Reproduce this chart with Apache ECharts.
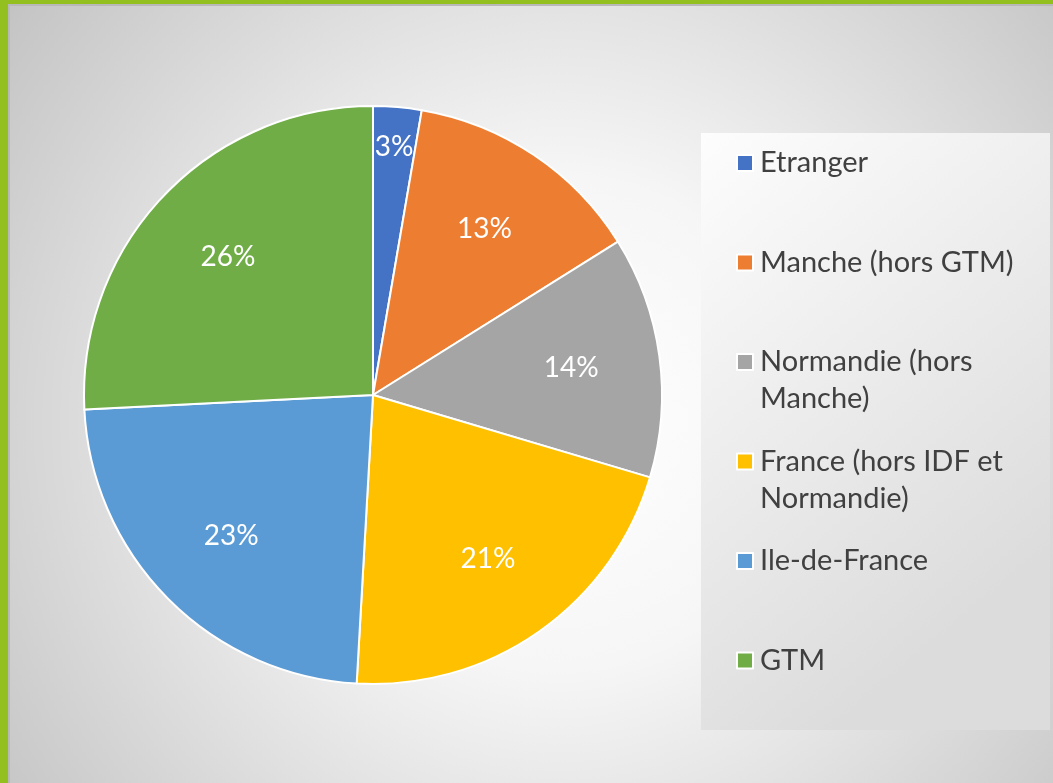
<!DOCTYPE html>
<html>
<head>
<meta charset="utf-8">
<script src="https://cdn.jsdelivr.net/npm/echarts@6/dist/echarts.min.js"></script>
<style>
  html, body { margin: 0; padding: 0; }
  #chart01 { width: 1053px; height: 783px; }
</style>
</head>
<body>
<div id="chart01"></div>
<script>
// données
var categories = ["Etranger", "Manche (hors GTM)", "Normandie (hors Manche)", "France (hors IDF et Normandie)", "Ile-de-France", "GTM"];
var legendLabels = ["Etranger", "Manche (hors GTM)", "Normandie (hors\nManche)", "France (hors IDF et\nNormandie)", "Ile-de-France", "GTM"];
var values = [2.7, 13.4, 13.5, 21.3, 23.3, 25.8];
var colors = ["#4472c4", "#ed7d31", "#a5a5a5", "#ffc000", "#5b9bd5", "#70ad47"];

var fontName = "Lato";
var lineH = 37;
var pieCenter = [373, 395];
var pieRadius = 289;
var total = values.reduce(function (a, b) { return a + b; }, 0);

var pieData = categories.map(function (name, i) {
    return { name: name, value: values[i], itemStyle: { color: colors[i] } };
});

// 3 lignes par entrée : la 1re ligne de texte reste alignée sur le carré
var legendText = legendLabels.map(function (t) {
    return t.indexOf("\n") >= 0 ? "\n" + t : "\n" + t + "\n";
});

// 基于准备好的dom，初始化echarts图表
var myChart01 = echarts.init(document.getElementById('chart01'));
var option = {
    backgroundColor: {
        type: "radial", x: 0.53, y: 0.54, r: 0.9,
        colorStops: [
            { offset: 0, color: "#ffffff" },
            { offset: 0.35, color: "#f6f6f6" },
            { offset: 1, color: "#c2c2c2" }
        ]
    },
    color: colors,
    graphic: [
        {
            type: "rect", z: 0, silent: true,
            shape: { x: 701, y: 133, width: 349, height: 597 },
            style: {
                fill: {
                    type: "linear", x: 0, y: 0, x2: 1, y2: 0.7,
                    colorStops: [
                        { offset: 0, color: "#fdfdfd" },
                        { offset: 1, color: "#dcdcdc" }
                    ]
                }
            }
        },
        { type: "rect", z: 100, silent: true, shape: { x: 0, y: 0, width: 1053, height: 4 }, style: { fill: "#93c01f" } },
        { type: "rect", z: 100, silent: true, shape: { x: 0, y: 0, width: 8, height: 783 }, style: { fill: "#93c01f" } },
        { type: "rect", z: 99, silent: true, shape: { x: 8, y: 4, width: 1045, height: 2 }, style: { fill: "#b8b8b8" } },
        { type: "rect", z: 99, silent: true, shape: { x: 8, y: 4, width: 2, height: 779 }, style: { fill: "#b8b8b8" } }
    ],
    legend: {
        orient: "vertical",
        left: 736,
        top: 107.5,
        padding: 0,
        itemGap: -11.5,
        itemWidth: 16,
        itemHeight: 16,
        icon: "rect",
        selectedMode: false,
        data: categories,
        formatter: function (name) {
            return legendText[categories.indexOf(name)];
        },
        textStyle: {
            fontFamily: fontName,
            fontSize: 29,
            color: "#404040",
            lineHeight: lineH,
            padding: [0, 0, 0, 2]
        }
    },
    series: [
        {
            name: "",
            type: "pie",
            center: pieCenter,
            radius: pieRadius,
            startAngle: 90,
            clockwise: true,
            itemStyle: { borderColor: "#ffffff", borderWidth: 2 },
            label: { show: false },
            labelLine: { show: false },
            emphasis: { disabled: true },
            data: pieData
        },
        {
            name: "labels",
            type: "pie",
            center: pieCenter,
            radius: [152, 242],
            startAngle: 90,
            clockwise: true,
            silent: true,
            itemStyle: { color: "rgba(0,0,0,0)" },
            label: {
                show: true,
                position: "inside",
                color: "#ffffff",
                fontFamily: fontName,
                fontSize: 28,
                formatter: function (p) { return Math.round(p.percent) + "%"; }
            },
            // les petites parts : étiquette poussée vers le bord
            labelLayout: function (p) {
                if (values[p.dataIndex] / total >= 0.05) { return {}; }
                var cx = p.labelRect.x + p.labelRect.width / 2;
                var cy = p.labelRect.y + p.labelRect.height / 2;
                var dx = cx - pieCenter[0], dy = cy - pieCenter[1];
                var k = pieRadius * 0.86 / Math.sqrt(dx * dx + dy * dy);
                return {
                    x: pieCenter[0] + dx * k,
                    y: pieCenter[1] + dy * k,
                    align: "center",
                    verticalAlign: "middle"
                };
            },
            labelLine: { show: false },
            emphasis: { disabled: true },
            data: pieData.map(function (d) { return { name: d.name, value: d.value, itemStyle: { color: "rgba(0,0,0,0)" } }; })
        }
    ]
};
// 为echarts对象加载数据
myChart01.setOption(option);
</script>
</body>
</html>
